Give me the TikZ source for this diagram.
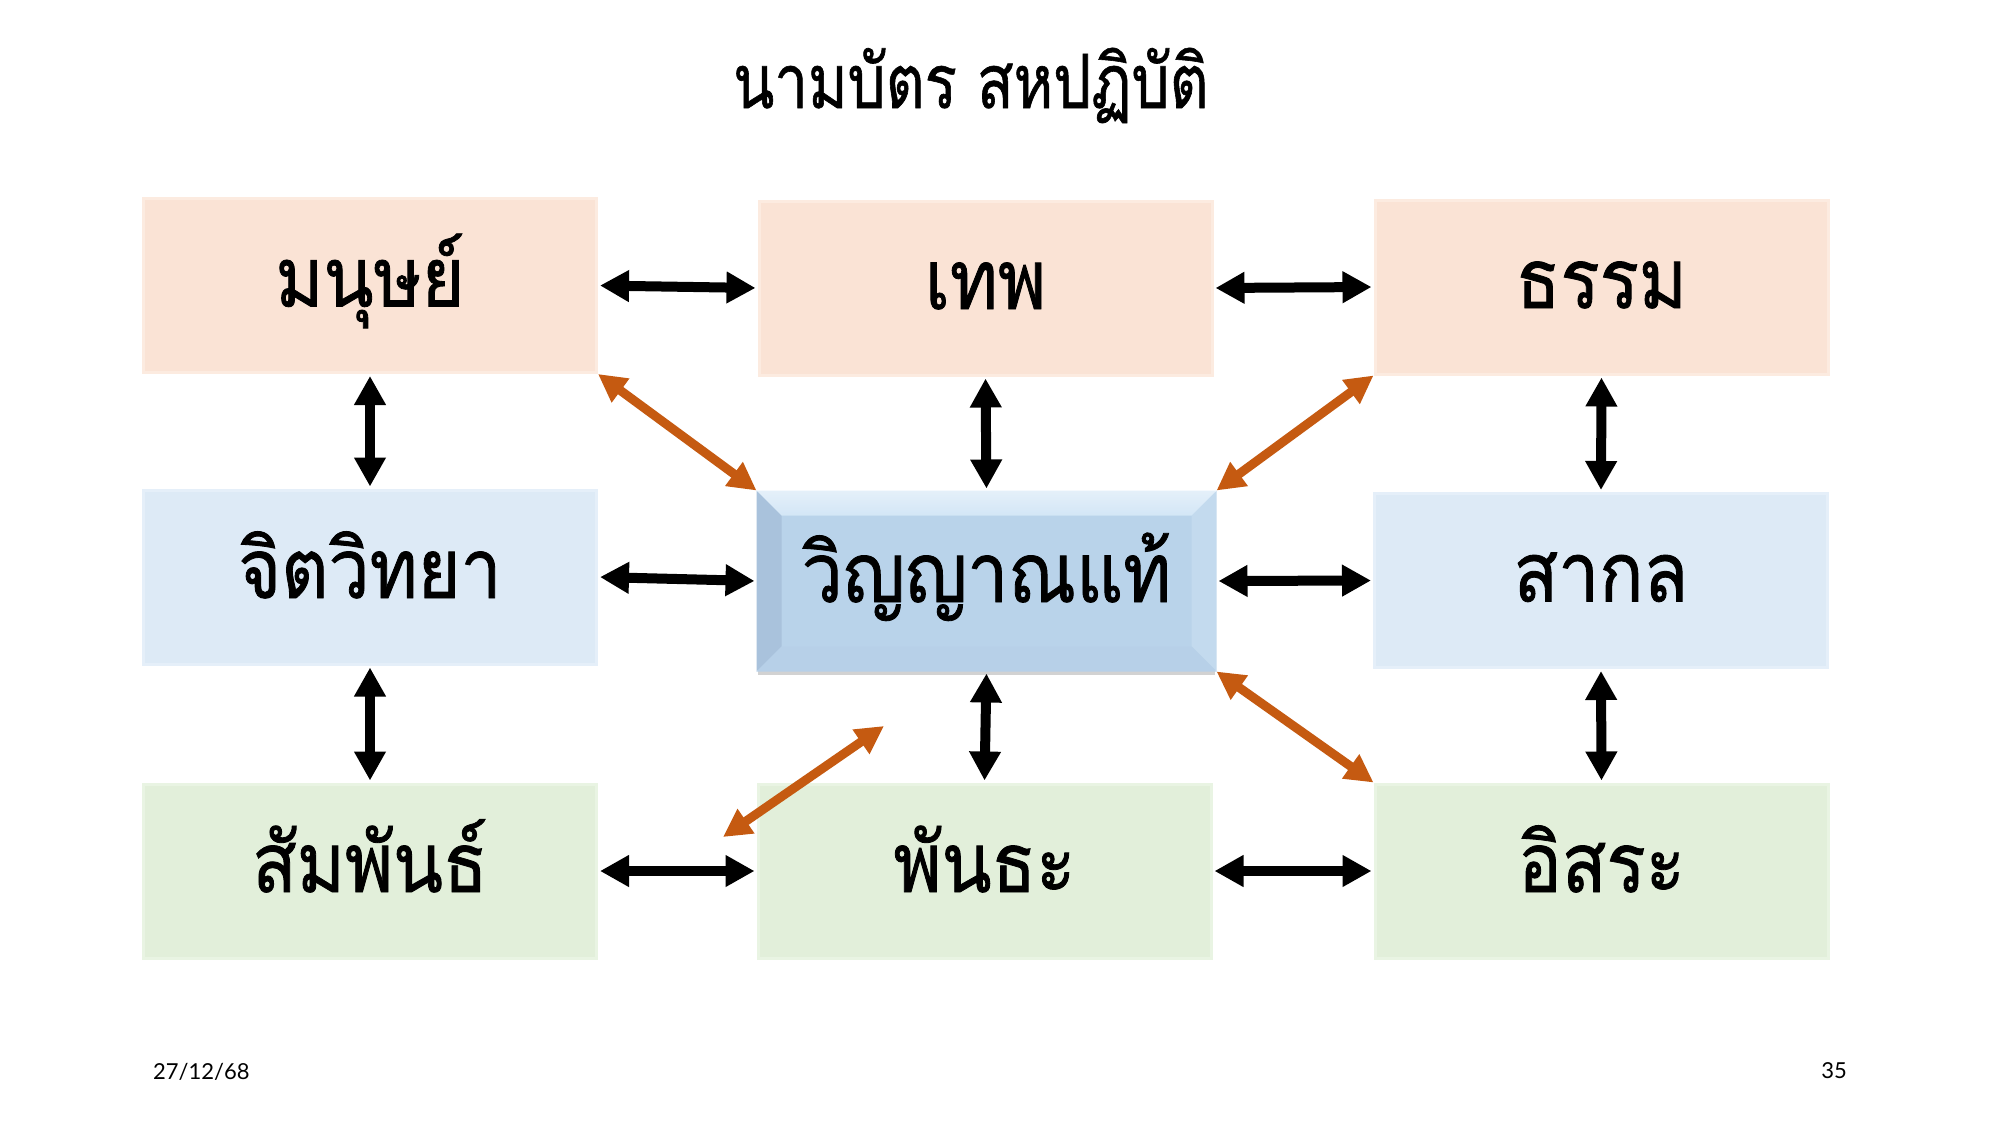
\documentclass[tikz,border=0pt]{standalone}
\usepackage{fontspec}
\newfontfamily\thaifont[Script=Thai, FakeStretch=0.88, FakeBold=1]{Loma}
\newfontfamily\thaititle[Script=Thai, FakeStretch=0.8, FakeBold=0.8]{Loma}
\newfontfamily\footfont{Lato}
\usetikzlibrary{arrows.meta,calc,shadows}
\definecolor{peachF}{HTML}{FAE3D5}
\definecolor{peachD}{HTML}{FCEBE0}
\definecolor{blueF}{HTML}{DDEAF6}
\definecolor{blueD}{HTML}{E5EFF9}
\definecolor{greenF}{HTML}{E2EFDA}
\definecolor{greenD}{HTML}{E9F4E3}
\definecolor{cbMain}{HTML}{B9D3EA}
\definecolor{cbTop}{HTML}{D3E6F6}
\definecolor{cbLeft}{HTML}{A9C2DC}
\definecolor{cbRight}{HTML}{C3DAEE}
\definecolor{cbBottom}{HTML}{B7D0E8}
\definecolor{orgC}{HTML}{C55A11}
\begin{document}
\begin{tikzpicture}[x=1pt,y=-1pt,
  box/.style={rectangle, minimum width=453pt, minimum height=174pt, inner sep=0pt, line width=3pt},
  peach/.style={box, fill=peachF, draw=peachD},
  lblue/.style={box, fill=blueF, draw=blueD},
  lgreen/.style={box, fill=greenF, draw=greenD},
  lbl/.style={font=\thaifont\fontsize{83}{90}\selectfont, anchor=base, inner sep=0pt},
  blk/.style={line width=10pt, draw=black, {Triangle[length=29pt,width=30pt]}-{Triangle[length=29pt,width=30pt]}, shorten >=2pt, shorten <=2pt},
  org/.style={line width=9pt, draw=orgC, {Triangle[length=28pt,width=28pt]}-{Triangle[length=28pt,width=28pt]}}
]
\useasboundingbox (0,0) rectangle (2000,1125);
\fill[white] (0,0) rectangle (2000,1125);

% title
\node[font=\thaititle\fontsize{75}{80}\selectfont, anchor=base, inner sep=0pt] (title) at (971,108) {นามบัตร สหปฏิบัติ};

% boxes
\node[peach] (b11) at (370,285.5) {};
\node[peach] (b12) at (985.5,288) {};
\node[peach] (b13) at (1601.5,287) {};
\node[lblue] (b21) at (370,577) {};
\node[box, minimum width=457pt, minimum height=178pt, fill=cbMain, drop shadow={shadow xshift=0pt, shadow yshift=-5pt, opacity=0.35}] (b22) at (986.5,581) {};
\node[lblue] (b23) at (1601,580.5) {};
\node[lgreen] (b31) at (370,871) {};
\node[lgreen] (b32) at (984.5,871) {};
\node[lgreen] (b33) at (1601.5,871) {};

% bevel of centre box
\fill[cbLeft] (b22.north west) -- (b22.south west) -- ($(b22.south west)+(25,-25)$) -- ($(b22.north west)+(25,25)$) -- cycle;
\fill[cbRight] (b22.north east) -- (b22.south east) -- ($(b22.south east)+(-25,-25)$) -- ($(b22.north east)+(-25,25)$) -- cycle;
\fill[cbBottom] (b22.south west) -- (b22.south east) -- ($(b22.south east)+(-25,-25)$) -- ($(b22.south west)+(25,-25)$) -- cycle;
\shade[top color=cbTop!60!white, bottom color=cbTop] (b22.north west) -- (b22.north east) -- ($(b22.north east)+(-25,25)$) -- ($(b22.north west)+(25,25)$) -- cycle;

% labels
\node[lbl] (t11) at ($(b11.center)+(0,21)$) {มนุษย์};
\node[lbl] (t12) at ($(b12.center)+(0,21)$) {เทพ};
\node[lbl] (t13) at ($(b13.center)+(0,21)$) {ธรรม};
\node[lbl] (t21) at ($(b21.center)+(0,21)$) {จิตวิทยา};
\node[lbl] (t22) at ($(b22.center)+(0,21)$) {วิญญาณแท้};
\node[lbl] (t23) at ($(b23.center)+(0,21)$) {สากล};
\node[lbl] (t31) at ($(b31.center)+(0,21)$) {สัมพันธ์};
\node[lbl] (t32) at ($(b32.center)+(0,21)$) {พันธะ};
\node[lbl] (t33) at ($(b33.center)+(0,21)$) {อิสระ};

% black arrows
\draw[blk] (b11.east) -- (b12.west);
\draw[blk] (b12.east) -- (b13.west);
\draw[blk] (b21.east) -- (b22.west);
\draw[blk] (b22.east) -- (b23.west);
\draw[blk] (b31.east) -- (b32.west);
\draw[blk] (b32.east) -- (b33.west);
\draw[blk] (b11.south) -- (b21.north);
\draw[blk] (b21.south) -- (b31.north);
\draw[blk] (b12.south) -- (b22.north);
\draw[blk] (b22.south) -- (b32.north);
\draw[blk] (b13.south) -- (b23.north);
\draw[blk] (b23.south) -- (b33.north);

% orange arrows
\draw[org] (b11.south east) -- (b22.north west);
\draw[org] (b13.south west) -- (b22.north east);
\draw[org] (b22.south east) -- (b33.north west);
\coordinate (f1) at (723,837);
\coordinate (f2) at (884,726);
\draw[org] (f1) -- (f2);

% footer
\node[font=\footfont\fontsize{22}{24}\selectfont, anchor=base west, inner sep=0pt] (date) at (153,1079) {27/12/68};
\node[font=\footfont\fontsize{22}{24}\selectfont, anchor=base east, inner sep=0pt] (page) at (1847,1078) {35};
\end{tikzpicture}
\end{document}
